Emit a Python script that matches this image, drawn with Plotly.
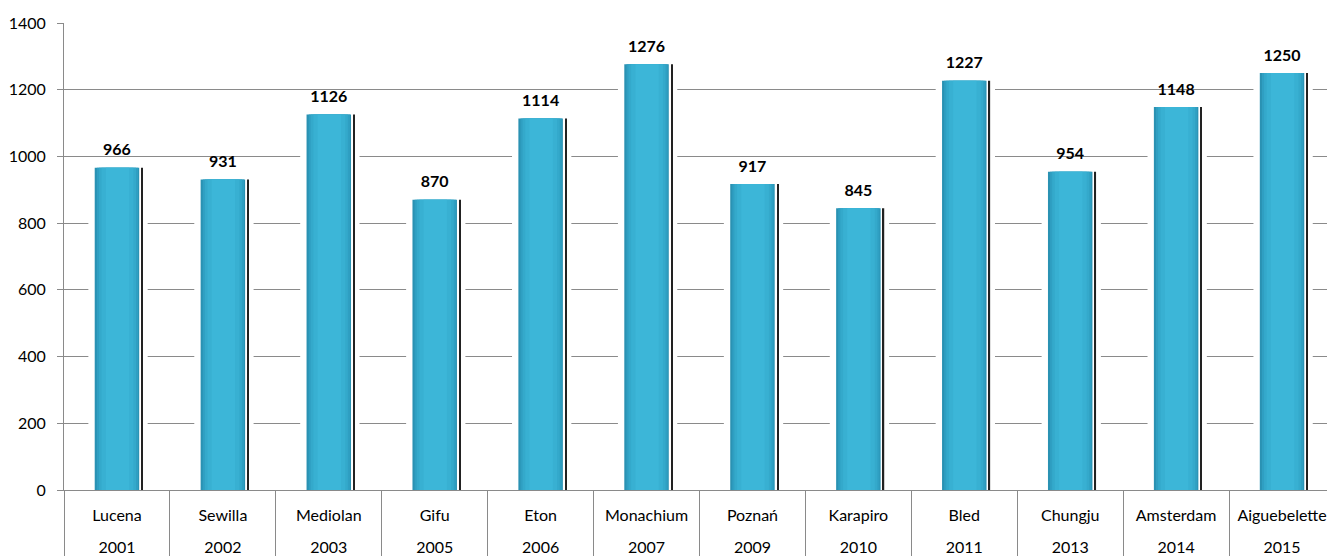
import plotly.graph_objects as go

cities = ["Lucena", "Sewilla", "Mediolan", "Gifu", "Eton", "Monachium", "Poznań",
          "Karapiro", "Bled", "Chungju", "Amsterdam", "Aiguebelette"]
years = ["2001", "2002", "2003", "2005", "2006", "2007", "2009",
         "2010", "2011", "2013", "2014", "2015"]
values = [966, 931, 1126, 870, 1114, 1276, 917, 845, 1227, 954, 1148, 1250]

FONT = "Lato"
GRID = "#8a8a8a"

fig = go.Figure()
# white halo that interrupts gridlines around each bar (base axis = dividers)
fig.add_trace(go.Bar(x=cities, y=values, width=0.56, offset=-0.27,
                     marker=dict(color="white", line=dict(width=0)),
                     hoverinfo="skip", showlegend=False))
# dark shadow line on the right of each bar (year-label axis)
fig.add_trace(go.Bar(x=years, y=values, xaxis="x2", width=0.012, offset=0.232,
                     marker=dict(color="#222222", line=dict(width=0)),
                     hoverinfo="skip", showlegend=False))
# main bar body with soft horizontal shading (city-label axis, top layer)
layers = [(0.42, "#2a92b3"), (0.39, "#2f9fc2"), (0.35, "#34a9cb"),
          (0.30, "#38b0d2"), (0.22, "#3cb6d8")]
for i, (w, c) in enumerate(layers):
    fig.add_trace(go.Bar(x=cities, y=values, xaxis="x3", width=w, offset=-w / 2 + (0.005 if i else 0),
                         marker=dict(color=c, line=dict(width=0)),
                         hoverinfo="skip" if i else None, showlegend=False))
# value labels
fig.add_trace(go.Scatter(x=cities, y=values, xaxis="x3", mode="markers+text",
                         marker=dict(size=12, opacity=0),
                         text=[str(v) for v in values], textposition="top center",
                         textfont=dict(family=FONT, size=16, color="black", weight="bold"),
                         cliponaxis=False, hoverinfo="skip", showlegend=False))

rng = [-0.5, len(cities) - 0.5]
fig.update_layout(
    barmode="overlay",
    width=1327, height=548,
    margin=dict(l=56, r=0, t=15, b=66),
    paper_bgcolor="white", plot_bgcolor="white",
    font=dict(family=FONT, size=15, color="black"),
    showlegend=False,
    xaxis=dict(type="category", range=rng, showline=True, linecolor=GRID, linewidth=1,
               ticks="outside", tickson="boundaries", ticklen=66, tickcolor=GRID,
               tickwidth=1, showticklabels=False, showgrid=False, automargin=False),
    xaxis2=dict(type="category", overlaying="x", anchor="y", side="bottom", range=rng,
                ticks="", showgrid=False, showline=False, automargin=False,
                ticklabelstandoff=46,
                tickfont=dict(family=FONT, size=16, color="black")),
    xaxis3=dict(type="category", overlaying="x", anchor="y", side="bottom", range=rng,
                ticks="", showgrid=False, showline=False, automargin=False,
                ticklabelstandoff=14,
                tickfont=dict(family=FONT, size=16, color="black")),
    yaxis=dict(range=[0, 1400], dtick=200, tick0=0, showline=True,
               linecolor=GRID, linewidth=1, ticks="outside", ticklen=6,
               tickcolor=GRID, showgrid=True, gridcolor=GRID, gridwidth=1,
               zeroline=False, ticklabelstandoff=8, automargin=False,
               tickfont=dict(family=FONT, size=16, color="black")),
)

fig.write_html("out.html")
